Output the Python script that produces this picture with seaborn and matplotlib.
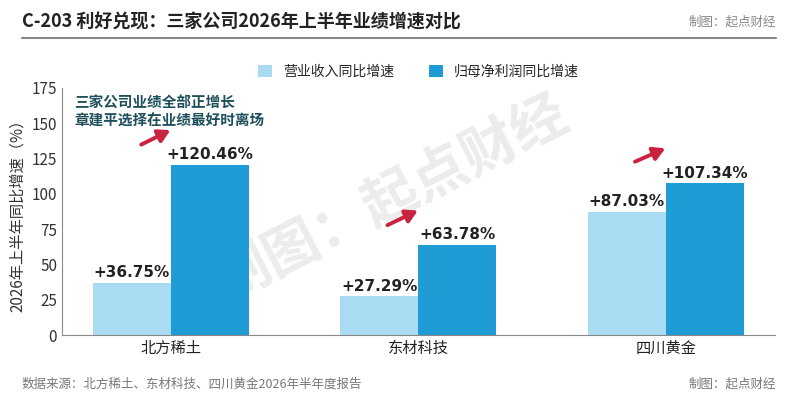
import pandas as pd
import matplotlib.pyplot as plt
import seaborn as sns

companies = ['北方稀土', '东材科技', '四川黄金']
revenue_growth = [36.75, 27.29, 87.03]
profit_growth = [120.46, 63.78, 107.34]
series_names = ['营业收入同比增速', '归母净利润同比增速']
yticks = [0, 25, 50, 75, 100, 125, 150, 175]

df = pd.DataFrame({
    '公司': companies * 2,
    '指标': [series_names[0]] * 3 + [series_names[1]] * 3,
    '增速': revenue_growth + profit_growth,
})

sns.set_style('white')
plt.rcParams['font.family'] = ['Noto Sans CJK SC', 'DejaVu Sans']

fig = plt.figure(figsize=(8, 4), dpi=100)
ax = fig.add_axes([0.0775, 0.1625, 0.891, 0.6175])
ax.set_facecolor('none')

colors = ['#A9DBF3', '#1F9BD5']
sns.barplot(data=df, x='公司', y='增速', hue='指标', palette=colors,
            width=0.63, saturation=1, linewidth=0, ax=ax, legend=True)

# 数值标签
for cont in ax.containers:
    ax.bar_label(cont, labels=[f'+{v:.2f}%' for v in cont.datavalues],
                 padding=2, fontsize=11, fontweight='bold', color='#222222',
                 family=['DejaVu Sans'])

ax.set_xlim(-0.44, 2.44)
ax.set_ylim(0, 175)
ax.set_yticks(yticks)
ax.set_xlabel('')
ax.set_ylabel('2026年上半年同比增速（%）', fontsize=11, color='#333333')
ax.tick_params(axis='x', labelsize=11, length=0, colors='#222222')
ax.tick_params(axis='y', labelsize=11, length=0, colors='#333333')
sns.despine(ax=ax)
ax.spines['left'].set_color('#888888')
ax.spines['bottom'].set_color('#888888')

ax.legend(loc='center', bbox_to_anchor=(0.5, 1.065), ncol=2, frameon=False,
          fontsize=10, handlelength=1.0, handleheight=1.0, columnspacing=2.5)

# 红色箭头
arrows = [((-0.13, 134), (0.008, 146)), ((0.865, 77), (1.008, 89)), ((1.865, 122), (2.008, 133))]
for tail, head in arrows:
    ax.annotate('', xy=head, xytext=tail,
                arrowprops=dict(arrowstyle='-|>,head_length=0.7,head_width=0.4',
                                color='#C9233F', lw=2.8))

ax.text(-0.39, 170, '三家公司业绩全部正增长\n章建平选择在业绩最好时离场', fontsize=10.5,
        fontweight='bold', color='#1E4F5C', va='top', linespacing=1.1)

# 水印
fig.text(0.49, 0.5, '制图：起点财经', fontsize=40, color='#ececec',
         rotation=27, ha='center', va='center', fontweight='bold', zorder=-1)

fig.text(0.0275, 0.945, 'C-203 利好兑现：三家公司2026年上半年业绩增速对比', fontsize=13,
         fontweight='bold', color='#222222', va='center')
fig.text(0.97, 0.945, '制图：起点财经', fontsize=9, color='#888888', ha='right', va='center')
fig.add_artist(plt.Line2D([0.0275, 0.97], [0.905, 0.905], color='#888888', lw=1.5))
fig.text(0.0275, 0.04, '数据来源：北方稀土、东材科技、四川黄金2026年半年度报告', fontsize=9,
         color='#777777', va='center')
fig.text(0.97, 0.04, '制图：起点财经', fontsize=9, color='#777777', ha='right', va='center')

fig.savefig('out.png', dpi=100)
